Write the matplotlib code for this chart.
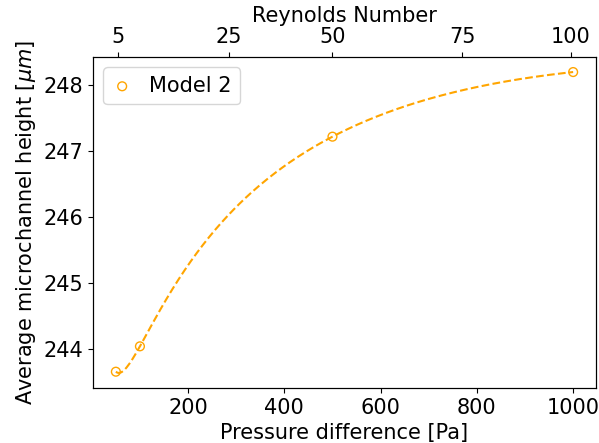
import matplotlib
matplotlib.use("Agg")
import matplotlib.pyplot as plt
import numpy as np

# data
pressure = np.array([50, 100, 500, 1000])
height = np.array([243.655, 244.04, 247.22, 248.20])

# top axis: Reynolds number labels at these pressure positions
re_pos = [55, 285, 500, 770, 995]
re_labels = ['5', '25', '50', '75', '100']

col = 'orange'

# smooth cubic through the four points, built in log(pressure)
coef = np.polyfit(np.log(pressure), height, 3)
xs = np.linspace(pressure.min(), pressure.max(), 300)
ys = np.polyval(coef, np.log(xs))

fs = 15
fig = plt.figure(figsize=(5.99, 4.43), dpi=100)
ax = fig.add_axes([93/599, 1 - 388/443, (596 - 93)/599, (388 - 57)/443])
ax.plot(xs, ys, '--', color=col, linewidth=1.5)
ax.scatter(pressure, height, facecolors='none', edgecolors=col, s=40, label='Model 2')
ax.set_xlabel('Pressure difference [Pa]', fontsize=fs)
ax.set_ylabel(r'Average microchannel height [$\mu m$]', fontsize=fs)
ax.tick_params(labelsize=fs)
ax.legend(loc='upper left', fontsize=fs, handlelength=1.0)

ax2 = ax.twiny()
ax2.set_xlim(ax.get_xlim())
ax2.set_xticks(re_pos)
ax2.set_xticklabels(re_labels)
ax2.tick_params(labelsize=fs)
ax2.set_xlabel('Reynolds Number', fontsize=fs)

fig.savefig('out.png', dpi=100)
